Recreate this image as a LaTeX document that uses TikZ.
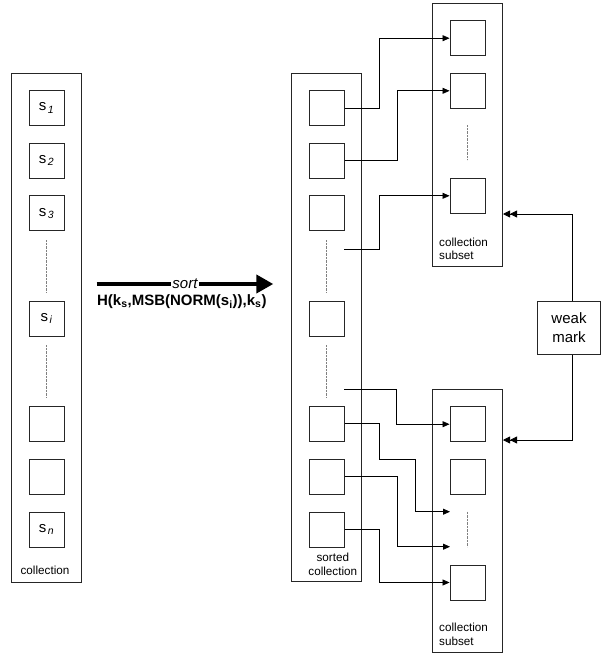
\documentclass[tikz,border=0pt]{standalone}
\usepackage{fontspec}
\setmainfont{Liberation Sans}
\usetikzlibrary{arrows.meta}

\begin{document}
\begin{tikzpicture}[
    x=1pt, y=-1pt,
    holder/.style={rectangle, draw=black!85, line width=0.9pt, minimum width=70pt, inner sep=0pt},
    item/.style={rectangle, draw=black!85, line width=0.9pt, minimum width=35pt, minimum height=35pt,
                 inner sep=0pt, font=\fontsize{15}{17}\selectfont},
    tag/.style={font=\fontsize{11.7}{13.4}\selectfont, inner sep=0pt},
    gap/.style={draw=gray, line width=0.8pt, dash pattern=on 0.6pt off 0.8pt},
    link/.style={-{Triangle[length=7pt,width=6pt]}, line width=0.8pt},
    weaklink/.style={-{Triangle[length=7pt,width=7pt]Triangle[length=7pt,width=7pt]}, line width=0.8pt},
    sortarrow/.style={-{Triangle[length=17pt,width=18pt]}, line width=4pt}
]
\useasboundingbox (0,0) rectangle (601,654);

% Frames
\node[holder, minimum height=509.4pt] (coll) at (46.3,328) {};
\node[holder, minimum height=508.4pt] (sorted) at (326.7,327.5) {};
\node[holder, minimum height=262.7pt] (subA) at (467.3,134.65) {};
\node[holder, minimum height=263.4pt] (subB) at (467.3,521) {};

% Collection
\node[item] (c1) at (46.5,108) {s\kern1.5pt\textsubscript{\itshape 1}};
\node[item] (c2) at (46.5,160.7) {s\kern1.5pt\textsubscript{\itshape 2}};
\node[item] (c3) at (46.5,213.3) {s\kern1.5pt\textsubscript{\itshape 3}};
\node[item] (ci) at (46.5,318.5) {s\kern1.5pt\textsubscript{\itshape i}};
\node[item] (c5) at (46.5,423.5) {};
\node[item] (c6) at (46.5,476.5) {};
\node[item] (cn) at (46.5,529.5) {s\kern1.5pt\textsubscript{\itshape n}};
\draw[gap] (46.3,240) -- (46.3,292.7);
\draw[gap] (46.3,345) -- (46.3,398);
\node[tag] (colllbl) at (45,570) {collection};

% Sort step
\coordinate (sortA) at (96.7,284);
\coordinate (sortB) at (273.3,284);
\draw[sortarrow] (sortA) -- node[fill=white, inner sep=1pt, font=\fontsize{15}{17}\selectfont\itshape] (sortlbl) {sort} (sortB);
\node[font=\fontsize{15}{17}\selectfont\bfseries] (key) at (181.8,301.7)
    {H(k\textsubscript{s},MSB(NORM(s\textsubscript{i})),k\textsubscript{s})};

% Sorted collection
\node[item] (t1) at (326.8,108) {};
\node[item] (t2) at (326.8,160.7) {};
\node[item] (t3) at (326.8,213.3) {};
\node[item] (t4) at (326.8,318.5) {};
\node[item] (t5) at (326.8,423.5) {};
\node[item] (t6) at (326.8,476.5) {};
\node[item] (t7) at (326.8,529.5) {};
\draw[gap] (326.7,240) -- (326.7,292.7);
\draw[gap] (326.7,345) -- (326.7,398);
\node[tag, align=center] (sortedlbl) at (332.8,564.3) {sorted\\collection};

% Upper subset
\node[item] (a1) at (467.5,38.2) {};
\node[item] (a2) at (467.5,90.8) {};
\node[item] (a3) at (467.5,195.8) {};
\draw[gap] (467.3,125) -- (467.3,160);
\node[tag, align=left, anchor=west] (subAlbl) at (439,248.6) {collection\\subset};

% Lower subset
\node[item] (b1) at (467.5,424.2) {};
\node[item] (b2) at (467.5,476.8) {};
\node[item] (b3) at (467.5,582.5) {};
\draw[gap] (467.3,511.7) -- (467.3,546.7);
\coordinate (bT) at (450,511.7);
\coordinate (bB) at (450,546.7);
\node[tag, align=left, anchor=west] (subBlbl) at (439,634.2) {collection\\subset};

% Links
\coordinate (g1) at (344.3,249);
\coordinate (g2) at (344.3,389.3);
\draw[link] (t1.east) -- ++(35,0) |- (a1.west);
\draw[link] (t2.east) -- ++(52.4,0) |- (a2.west);
\draw[link] (g1) -- ++(35,0) |- (a3.west);
\draw[link] (g2) -- ++(52.4,0) |- (b1.west);
\draw[link] (t5.east) -- ++(35,0) |- (415,459.3) |- (bT);
\draw[link] (t6.east) -- ++(52.4,0) |- (bB);
\draw[link] (t7.east) -- ++(35,0) |- (b3.west);

% Weak mark
\node[rectangle, draw=black!85, line width=0.9pt, minimum width=63.5pt, minimum height=53.3pt,
      align=center, font=\fontsize{15}{18.5}\selectfont] (weak) at (569,327.7) {weak\\mark};
\coordinate (wA) at (503,214);
\coordinate (wB) at (503,440);
\draw[weaklink] ([xshift=3.7pt]weak.north) |- (wA);
\draw[weaklink] ([xshift=3.7pt]weak.south) |- (wB);

\end{tikzpicture}
\end{document}
